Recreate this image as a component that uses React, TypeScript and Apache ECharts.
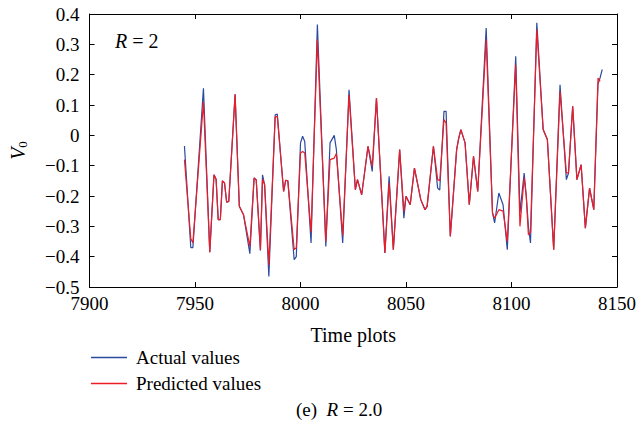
import { useEffect, useRef } from "react";
import * as echarts from "echarts";

const times = [
  7945, 7948, 7949, 7954, 7957, 7959, 7960, 7961, 7962, 7963,
  7964, 7965, 7966, 7969, 7971, 7973, 7976, 7978, 7979, 7981,
  7982, 7983, 7985, 7988, 7989, 7992, 7993, 7994, 7997, 7998,
  8000, 8001, 8002, 8005, 8008, 8012, 8014, 8016, 8017, 8020,
  8023, 8026, 8027, 8029, 8032, 8034, 8036, 8040, 8042, 8044,
  8047, 8049, 8050, 8052, 8054, 8057, 8059, 8060, 8063, 8065,
  8066, 8068, 8069, 8071, 8074, 8075, 8076, 8078, 8080, 8082,
  8084, 8088, 8091, 8092, 8094, 8096, 8098, 8102, 8104, 8106,
  8107, 8108, 8109, 8112, 8115, 8117, 8120, 8123, 8126, 8127,
  8129, 8131, 8133, 8135, 8137, 8139, 8141, 8142, 8143,
];

const actualValues = [
  -0.035, -0.37, -0.37, 0.155, -0.385, -0.13, -0.145, -0.278, -0.278, -0.15,
  -0.157, -0.22, -0.218, 0.135, -0.234, -0.262, -0.39, -0.141, -0.146, -0.38,
  -0.13, -0.163, -0.465, 0.068, 0.07, -0.185, -0.148, -0.15, -0.41, -0.4,
  -0.025, -0.003, -0.02, -0.355, 0.365, -0.366, -0.025, 0.0, -0.047, -0.355,
  0.15, -0.179, -0.146, -0.196, -0.036, -0.119, 0.123, -0.388, -0.135, -0.377,
  -0.047, -0.273, -0.201, -0.229, -0.108, -0.212, -0.245, -0.234, -0.036, -0.174,
  -0.18, 0.079, 0.079, -0.333, -0.047, -0.009, 0.019, -0.025, -0.229, -0.069,
  -0.185, 0.354, -0.256, -0.289, -0.19, -0.229, -0.377, 0.261, -0.256, -0.124,
  -0.201, -0.3, -0.355, 0.371, 0.019, -0.014, -0.377, 0.167, -0.146, -0.125,
  0.096, -0.146, -0.097, -0.306, -0.174, -0.245, 0.17, 0.19, 0.217,
];

const predictedValues = [
  -0.08, -0.34, -0.355, 0.11, -0.385, -0.13, -0.145, -0.278, -0.278, -0.15,
  -0.157, -0.22, -0.218, 0.135, -0.234, -0.262, -0.366, -0.141, -0.146, -0.377,
  -0.145, -0.163, -0.427, 0.06, 0.063, -0.185, -0.148, -0.15, -0.377, -0.37,
  -0.058, -0.053, -0.058, -0.32, 0.316, -0.35, -0.08, -0.075, -0.06, -0.33,
  0.134, -0.179, -0.146, -0.196, -0.036, -0.102, 0.123, -0.388, -0.157, -0.377,
  -0.047, -0.251, -0.201, -0.229, -0.108, -0.212, -0.245, -0.234, -0.036, -0.146,
  -0.15, 0.052, 0.04, -0.333, -0.047, -0.009, 0.019, -0.025, -0.229, -0.069,
  -0.185, 0.316, -0.256, -0.273, -0.245, -0.25, -0.35, 0.233, -0.3, -0.14,
  -0.201, -0.328, -0.32, 0.349, 0.019, -0.014, -0.377, 0.145, -0.124, -0.124,
  0.096, -0.146, -0.097, -0.306, -0.174, -0.245, 0.189, 0.178, null,
];

const xMin = 7900;
const xMax = 8150;
const xStep = 50;
const yMin = -0.5;
const yMax = 0.4;
const yStep = 0.1;

const FONT = "'Liberation Serif', 'DejaVu Serif', serif";
const LINE_ICON = "path://M0,0 L36,0 L36,1.4 L0,1.4 Z";

function fmtY(v: number): string {
  const r = Math.round(v * 10) / 10;
  if (Math.abs(r) < 1e-9) return "0";
  if (r < 0) return "\u2212" + Math.abs(r).toFixed(1);
  return r.toFixed(1);
}

export default function App() {
  const ref = useRef<HTMLDivElement>(null);
  useEffect(() => {
    if (!ref.current) return;
    const chart = echarts.init(ref.current, null, { renderer: "svg" });
    const actualData = times.map((t, i) => [t, actualValues[i]]);
    const predictedData = times
      .map((t, i) => [t, predictedValues[i]])
      .filter((p) => p[1] !== null);
    const tickCommon = {
      inside: true,
      length: 5,
      lineStyle: { color: "#000", width: 1 },
    };
    chart.setOption({
      animation: false,
      backgroundColor: "#fff",
      textStyle: { fontFamily: FONT },
      grid: { left: 88, right: 20, top: 14, bottom: 148, containLabel: false },
      legend: {
        orient: "vertical",
        left: 86,
        top: 343,
        itemWidth: 36,
        itemHeight: 14,
        itemGap: 7,
        textStyle: { fontFamily: FONT, fontSize: 19, color: "#000", padding: [0, 0, 0, 4] },
        data: [
          { name: "Actual values", icon: LINE_ICON },
          { name: "Predicted values", icon: LINE_ICON },
        ],
      },
      xAxis: [
        {
          type: "value",
          min: xMin,
          max: xMax,
          interval: xStep,
          position: "bottom",
          name: "Time plots",
          nameLocation: "middle",
          nameGap: 38,
          nameTextStyle: { fontFamily: FONT, fontSize: 20, color: "#000" },
          axisLine: { show: true, onZero: false, lineStyle: { color: "#000", width: 1 } },
          axisTick: tickCommon,
          axisLabel: {
            fontFamily: FONT,
            fontSize: 19,
            color: "#000",
            margin: 7,
            formatter: (v: number) => String(Math.round(v)),
          },
          splitLine: { show: false },
        },
        {
          type: "value",
          min: xMin,
          max: xMax,
          interval: xStep,
          position: "top",
          axisLine: { show: true, onZero: false, lineStyle: { color: "#000", width: 1 } },
          axisTick: tickCommon,
          axisLabel: { show: false },
          splitLine: { show: false },
        },
      ],
      yAxis: [
        {
          type: "value",
          min: yMin,
          max: yMax,
          interval: yStep,
          position: "left",
          name: "{v|V}{s|0}",
          nameLocation: "middle",
          nameRotate: 90,
          nameGap: 61,
          nameTextStyle: {
            color: "#000",
            rich: {
              v: { fontFamily: FONT, fontSize: 20, fontStyle: "italic", color: "#000" },
              s: { fontFamily: FONT, fontSize: 13, color: "#000", verticalAlign: "bottom", padding: [8, 0, 0, 0] },
            },
          },
          axisLine: { show: true, onZero: false, lineStyle: { color: "#000", width: 1 } },
          axisTick: tickCommon,
          axisLabel: { fontFamily: FONT, fontSize: 19, color: "#000", margin: 10, formatter: fmtY },
          splitLine: { show: false },
        },
        {
          type: "value",
          min: yMin,
          max: yMax,
          interval: yStep,
          position: "right",
          axisLine: { show: true, onZero: false, lineStyle: { color: "#000", width: 1 } },
          axisTick: tickCommon,
          axisLabel: { show: false },
          splitLine: { show: false },
        },
      ],
      series: [
        {
          name: "Actual values",
          type: "line",
          xAxisIndex: 0,
          yAxisIndex: 0,
          data: actualData,
          showSymbol: false,
          symbol: "none",
          lineStyle: { color: "#2a4aa0", width: 1.2 },
          itemStyle: { color: "#2a4aa0" },
        },
        {
          name: "Predicted values",
          type: "line",
          xAxisIndex: 0,
          yAxisIndex: 0,
          data: predictedData,
          showSymbol: false,
          symbol: "none",
          lineStyle: { color: "#ee1c25", width: 1.2 },
          itemStyle: { color: "#ee1c25" },
        },
      ],
      graphic: [
        {
          type: "text",
          left: 115,
          top: 31,
          style: {
            text: "{i|R} = 2",
            rich: {
              i: { fontFamily: FONT, fontSize: 20, fontStyle: "italic", fill: "#000" },
            },
            fontFamily: FONT,
            fontSize: 20,
            fill: "#000",
          },
        },
        {
          type: "text",
          left: 296,
          top: 400,
          style: {
            text: "(e)  {i|R} = 2.0",
            rich: {
              i: { fontFamily: FONT, fontSize: 19, fontStyle: "italic", fill: "#000" },
            },
            fontFamily: FONT,
            fontSize: 19,
            fill: "#000",
          },
        },
      ],
    });
    return () => chart.dispose();
  }, []);
  return (
    <div
      ref={ref}
      style={{ position: "absolute", left: 0, top: 0, width: 639, height: 435 }}
    />
  );
}
